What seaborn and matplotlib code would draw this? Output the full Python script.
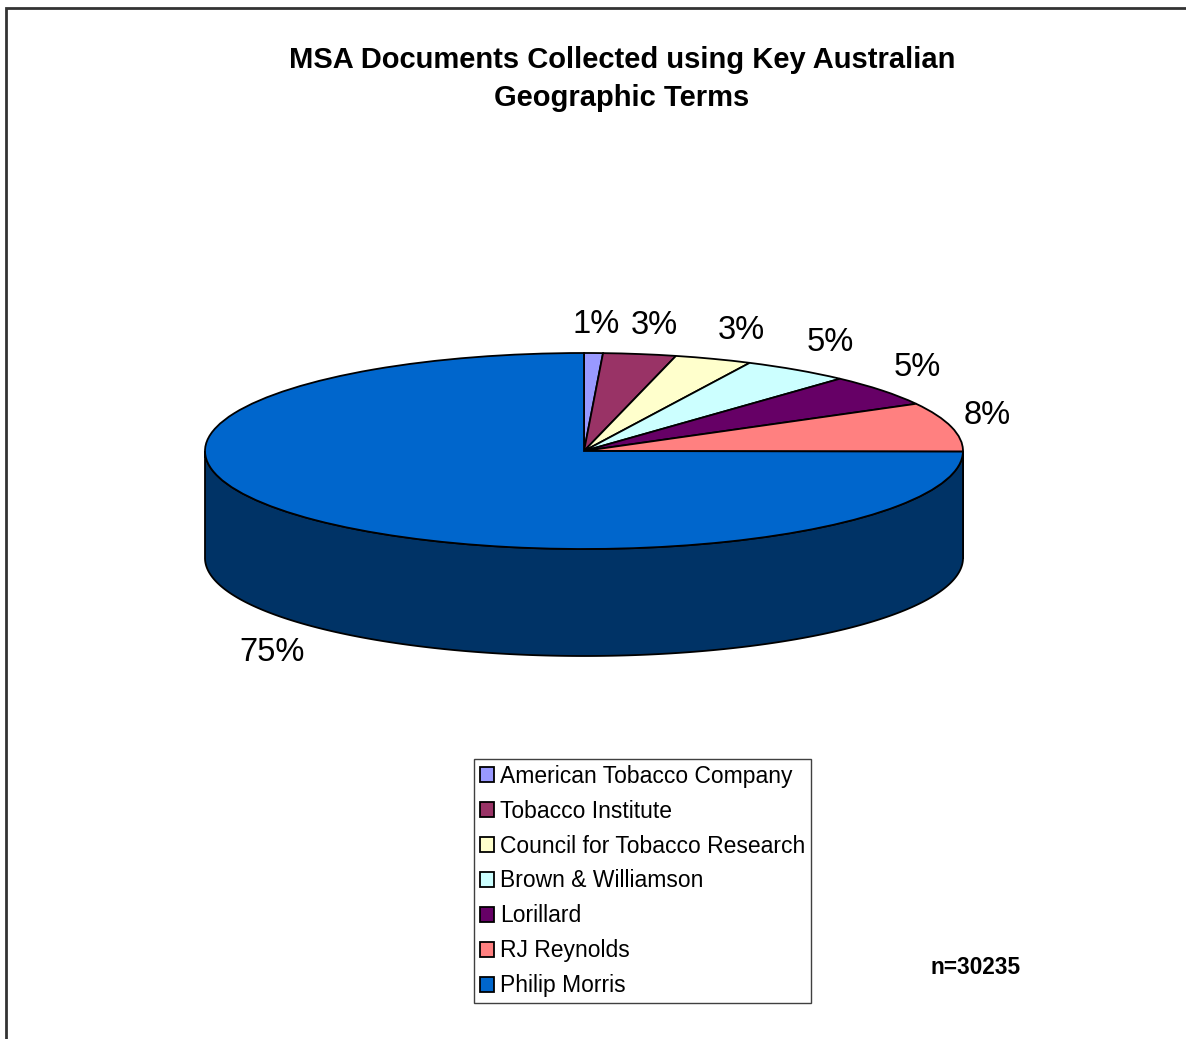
import numpy as np
import matplotlib
matplotlib.use("Agg")
import matplotlib.pyplot as plt
import matplotlib.colors as mcolors
from matplotlib.patches import Polygon, Rectangle
import seaborn as sns

companies = ["American Tobacco Company", "Tobacco Institute", "Council for Tobacco Research",
             "Brown & Williamson", "Lorillard", "RJ Reynolds", "Philip Morris"]
shares = [0.8, 3.1, 3.3, 4.6, 5.2, 8.1, 74.9]
colors = ["#9999FF", "#993366", "#FFFFCC", "#CCFFFF", "#660066", "#FF8080", "#0066CC"]
title = "MSA Documents Collected using Key Australian\nGeographic Terms"
n_docs = 30235

sns.set_style("white")
plt.rcParams['font.family'] = ['Liberation Sans', 'DejaVu Sans']
plt.rcParams['text.color'] = 'black'

W, H = 1186, 1039
cx, cy, rx, ry = 584, 451, 379, 98   # pie centre / radii in pixels
depth_px = 107
depth = depth_px / ry                 # side height in y-radius units

fig = plt.figure(figsize=(W / 100, H / 100), dpi=100)
ax = fig.add_axes([0, 0, 1, 1])

wedges, _ = ax.pie(shares, colors=colors, startangle=90, counterclock=False,
                   wedgeprops=dict(edgecolor='black', linewidth=1.3), frame=False)

# squash the circle into an ellipse -> tilted pie
ax.set_aspect('auto')
ax.set_xlim(-cx / rx, (W - cx) / rx)
ax.set_ylim((cy - H) / ry, cy / ry)
ax.axis('off')

# side walls of the front half
for w, c in zip(wedges, colors):
    side = np.array(mcolors.to_rgb(c)) * 0.5
    for off in (-360, 0, 360):
        lo = max(w.theta1 + off, 180)
        hi = min(w.theta2 + off, 360)
        if hi > lo:
            th = np.radians(np.linspace(lo, hi, 300))
            x, y = np.cos(th), np.sin(th)
            pts = np.concatenate([np.c_[x, y], np.c_[x[::-1], y[::-1] - depth]])
            ax.add_patch(Polygon(pts, closed=True, fc=side, ec='black', lw=1.3, zorder=0.5))

# percentage labels, placed just outside the rim
lab_fs = 23.5
em = lab_fs * 100 / 72
total = sum(shares)
for w, s in zip(wedges, shares):
    txt = "%.0f%%" % (s / total * 100)
    hw = 0.5 * (0.556 * (len(txt) - 1) + 0.889) * em
    mid = np.radians((w.theta1 + w.theta2) / 2)
    c, sn = np.cos(mid), np.sin(mid)
    dx = (hw + 12) * np.tanh(3 * c)
    dy = 32 * np.tanh(1.5 * sn)
    lx = c + dx / rx
    ly = sn + dy / ry - (depth if sn < 0 else 0)
    ax.text(lx, ly, txt, ha='center', va='center', fontsize=lab_fs)

fig.text(622 / W, 1 - 79 / H, title, ha='center', va='center', fontsize=21,
         fontweight='bold', linespacing=1.42)
fig.text(931 / W, 1 - 968 / H, "n=%d" % n_docs, ha='left', va='center', fontsize=16.3,
         fontweight='bold')

leg = ax.legend(wedges, companies, loc='upper left', bbox_to_anchor=(474 / W, 1 - 759 / H),
                bbox_transform=fig.transFigure, fontsize=16.5, frameon=True, fancybox=False,
                edgecolor='#404040', framealpha=1, handlelength=0.62, handleheight=0.62,
                handletextpad=0.25, labelspacing=0.52, borderpad=0.25, borderaxespad=0)
leg.get_frame().set_linewidth(1)

# outer chart border (left and top visible)
fig.add_artist(Rectangle((6 / W, -0.1), 1.2, 1.1 - 8 / H, fill=False, ec='#333333', lw=2,
                         transform=fig.transFigure, clip_on=False))

fig.savefig("out.png", dpi=100)
